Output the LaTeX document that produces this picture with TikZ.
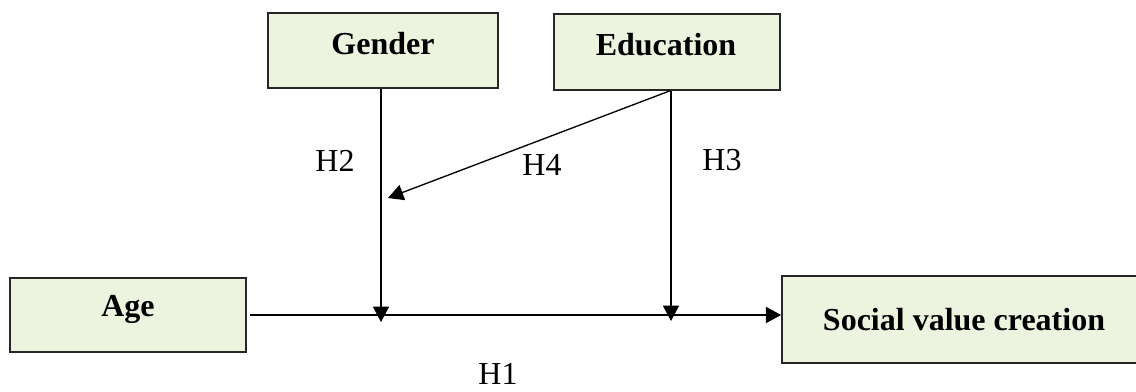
\documentclass[tikz,border=0pt]{standalone}
\usepackage{fontspec}
\setmainfont{Liberation Serif}
\usetikzlibrary{arrows.meta,positioning}

\begin{document}
\begin{tikzpicture}[
        x=0.75pt, y=-0.75pt,
        box/.style={draw=black!85, line width=1.2pt, fill=green!25!olive!12!white, inner sep=0pt},
        boxtext/.style={font=\fontsize{24}{28}\selectfont\bfseries},
        hyp/.style={font=\fontsize{24}{28}\selectfont, inner sep=1pt},
        link/.style={-{Triangle[length=11.5pt, width=12pt]}, line width=1pt},
    ]
        \useasboundingbox (0,0) rectangle (1136,392);

        % Boxes
        \node[box, minimum width=230*0.75pt, minimum height=75*0.75pt] (gen) at (383,50.5) {};
        \node[box, minimum width=226*0.75pt, minimum height=76*0.75pt] (edu) at (667,52) {};
        \node[box, minimum width=236*0.75pt, minimum height=74*0.75pt] (age) at (128,315) {};
        \node[box, minimum width=364*0.75pt, minimum height=87*0.75pt] (svc) at (964,319.5) {};

        % Box texts
        \node[boxtext] (gentext) at (383,44) {Gender};
        \node[boxtext] (edutext) at (666,45) {Education};
        \node[boxtext] (agetext) at (128,309) {Age};
        \node[boxtext] (svctext) at (964,320) {Social value creation};

        % Arrow ends
        \coordinate (m2) at (381,315);
        \coordinate (m3) at (671,315);
        \coordinate (m4) at (388,198);

        % Paths
        \draw[link, line width=1.4pt] ([xshift=3*0.75pt]age.east) -- (age.east -| svc.west);
        \draw[link] (gen.south -| m2) -- ([yshift=-7*0.75pt]m2);
        \draw[link] (edu.south -| m3) -- ([yshift=-6*0.75pt]m3);
        \draw[link] ([xshift=-1*0.75pt]edu.south -| m3) -- (m4);

        % Hypotheses
        \node[hyp] (h1) at (498,374) {H1};
        \node[hyp] (h2) at (335,161) {H2};
        \node[hyp] (h3) at (722,160) {H3};
        \node[hyp] (h4) at (542,165) {H4};
    \end{tikzpicture}
\end{document}
